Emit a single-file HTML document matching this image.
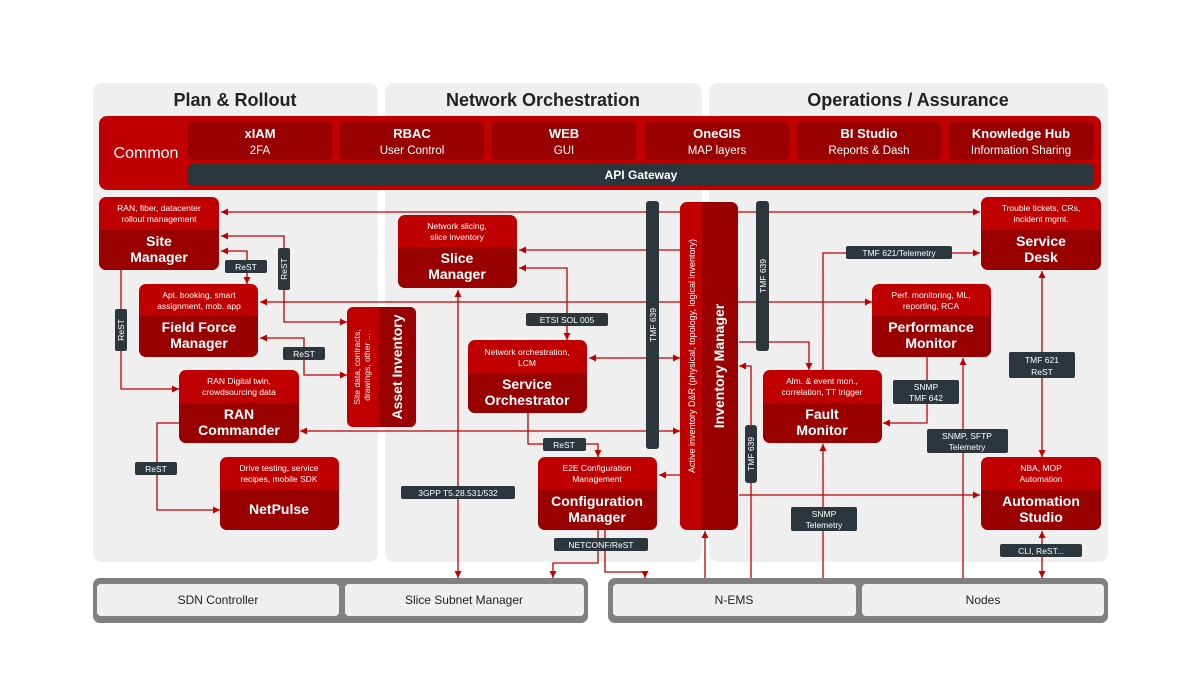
<!DOCTYPE html>
<html><head><meta charset="utf-8"><style>
html,body{margin:0;padding:0;background:#fff}
svg{display:block;font-family:"Liberation Sans",sans-serif}
.d{font-size:8.5px;fill:#fff;text-anchor:middle}
.t{font-size:14px;font-weight:bold;fill:#fff;text-anchor:middle}
.l{font-size:8.5px;fill:#fff;text-anchor:middle}
.w{stroke:#c00000;stroke-width:1.3;fill:none}
</style></head><body>
<svg width="1200" height="675" viewBox="0 0 1200 675">
<defs>
<marker id="a" viewBox="0 0 10 10" refX="10" refY="5" markerWidth="7" markerHeight="7" markerUnits="userSpaceOnUse" orient="auto-start-reverse"><path d="M0,0L10,5L0,10z" fill="#c00000"/></marker>
</defs>
<rect x="93" y="83" width="285" height="479" rx="9" fill="#efefef"/>
<rect x="385" y="83" width="317" height="479" rx="9" fill="#efefef"/>
<rect x="709" y="83" width="399" height="479" rx="9" fill="#efefef"/>
<g font-size="18" font-weight="bold" fill="#222" text-anchor="middle">
<text x="235" y="106">Plan &amp; Rollout</text>
<text x="543" y="106">Network Orchestration</text>
<text x="908" y="106">Operations / Assurance</text>
</g>
<rect x="99" y="116" width="1002" height="74" rx="8" fill="#c00000"/>
<text x="146" y="158" font-size="16" fill="#fff" text-anchor="middle">Common</text>
<g>
<rect x="188" y="122" width="144" height="38" rx="5" fill="#990000"/>
<rect x="340" y="122" width="144" height="38" rx="5" fill="#990000"/>
<rect x="492" y="122" width="144" height="38" rx="5" fill="#990000"/>
<rect x="645" y="122" width="144" height="38" rx="5" fill="#990000"/>
<rect x="797" y="122" width="144" height="38" rx="5" fill="#990000"/>
<rect x="949" y="122" width="145" height="38" rx="5" fill="#990000"/>
</g>
<g fill="#fff" text-anchor="middle">
<g font-size="13" font-weight="bold">
<text x="260" y="138">xIAM</text><text x="412" y="138">RBAC</text><text x="564" y="138">WEB</text><text x="717" y="138">OneGIS</text><text x="869" y="138">BI Studio</text><text x="1021" y="138">Knowledge Hub</text></g>
<g font-size="11.5">
<text x="260" y="154">2FA</text><text x="412" y="154">User Control</text><text x="564" y="154">GUI</text><text x="717" y="154">MAP layers</text><text x="869" y="154">Reports &amp; Dash</text><text x="1021" y="154">Information Sharing</text></g>
</g>
<rect x="188" y="164" width="906" height="22" rx="5" fill="#2b363d"/>
<text x="641" y="179" font-size="12" font-weight="bold" fill="#fff" text-anchor="middle">API Gateway</text>

<g class="w">
<path d="M221,212H980" marker-start="url(#a)" marker-end="url(#a)"/>
<path d="M680,250H519" marker-end="url(#a)"/>
<path d="M221,251H247V284" marker-start="url(#a)" marker-end="url(#a)"/>
<path d="M221,236H284V322H347" marker-start="url(#a)" marker-end="url(#a)"/>
<path d="M260,302H872" marker-start="url(#a)" marker-end="url(#a)"/>
<path d="M260,338H304V375H347" marker-start="url(#a)" marker-end="url(#a)"/>
<path d="M121,270V389H179" marker-end="url(#a)"/>
<path d="M179,423H157V510H220" marker-end="url(#a)"/>
<path d="M300,431H680" marker-start="url(#a)" marker-end="url(#a)"/>
<path d="M519,268H567V340" marker-start="url(#a)" marker-end="url(#a)"/>
<path d="M458,290V578" marker-start="url(#a)" marker-end="url(#a)"/>
<path d="M589,358H680" marker-start="url(#a)" marker-end="url(#a)"/>
<path d="M528,413V444H598V457" marker-end="url(#a)"/>
<path d="M680,475H659" marker-end="url(#a)"/>
<path d="M598,530V563H553V578" marker-end="url(#a)"/>
<path d="M605,530V572H645V578" marker-end="url(#a)"/>
<path d="M705,578V531" marker-end="url(#a)"/>
<path d="M751,578V366H739" marker-end="url(#a)"/>
<path d="M739,495H980" marker-end="url(#a)"/>
<path d="M739,342H809V370" marker-end="url(#a)"/>
<path d="M823,370V253H980" marker-end="url(#a)"/>
<path d="M927,357V423H883" marker-end="url(#a)"/>
<path d="M823,578V444" marker-end="url(#a)"/>
<path d="M963,578V358" marker-end="url(#a)"/>
<path d="M1042,271V457" marker-start="url(#a)" marker-end="url(#a)"/>
<path d="M1042,531V578" marker-start="url(#a)" marker-end="url(#a)"/>
</g>

<rect x="646" y="201" width="13" height="248" rx="3" fill="#2b363d"/>
<text transform="translate(656,325) rotate(-90)" class="l">TMF 639</text>
<rect x="756" y="201" width="13" height="150" rx="3" fill="#2b363d"/>
<text transform="translate(766,276) rotate(-90)" class="l">TMF 639</text>
<rect x="745" y="425" width="12" height="58" rx="3" fill="#2b363d"/>
<text transform="translate(754,454) rotate(-90)" class="l">TMF 639</text>

<g>
<rect x="99" y="197" width="120" height="73" rx="7" fill="#c00000"/><path d="M99,230H219V263a7,7 0 0 1 -7,7H106a7,7 0 0 1 -7,-7z" fill="#990000"/>
<text x="159" y="211" class="d">RAN, fiber, datacenter</text><text x="159" y="222" class="d">rollout management</text>
<text x="159" y="246" class="t">Site</text><text x="159" y="262" class="t">Manager</text>
<rect x="139" y="284" width="119" height="73" rx="7" fill="#c00000"/><path d="M139,316H258V350a7,7 0 0 1 -7,7H146a7,7 0 0 1 -7,-7z" fill="#990000"/>
<text x="199" y="298" class="d">Apt. booking, smart</text><text x="199" y="309" class="d">assignment, mob. app</text>
<text x="199" y="332" class="t">Field Force</text><text x="199" y="348" class="t">Manager</text>
<rect x="179" y="370" width="120" height="73" rx="7" fill="#c00000"/><path d="M179,403H299V436a7,7 0 0 1 -7,7H186a7,7 0 0 1 -7,-7z" fill="#990000"/>
<text x="239" y="384" class="d">RAN Digital twin,</text><text x="239" y="395" class="d">crowdsourcing data</text>
<text x="239" y="419" class="t">RAN</text><text x="239" y="435" class="t">Commander</text>
<rect x="220" y="457" width="119" height="73" rx="7" fill="#c00000"/><path d="M220,490H339V523a7,7 0 0 1 -7,7H227a7,7 0 0 1 -7,-7z" fill="#990000"/>
<text x="279" y="471" class="d">Drive testing, service</text><text x="279" y="482" class="d">recipes, mobile SDK</text>
<text x="279" y="514" class="t">NetPulse</text>
<rect x="347" y="307" width="69" height="120" rx="6" fill="#c00000"/><path d="M379,307H410a6,6 0 0 1 6,6V421a6,6 0 0 1 -6,6H379z" fill="#990000"/>
<text transform="translate(360,367) rotate(-90)" class="d">Site data, contracts,</text>
<text transform="translate(370,367) rotate(-90)" class="d">drawings, other ...</text>
<text transform="translate(402,367) rotate(-90)" class="t">Asset Inventory</text>
<rect x="398" y="215" width="119" height="73" rx="7" fill="#c00000"/><path d="M398,247H517V281a7,7 0 0 1 -7,7H405a7,7 0 0 1 -7,-7z" fill="#990000"/>
<text x="457" y="229" class="d">Network slicing,</text><text x="457" y="240" class="d">slice inventory</text>
<text x="457" y="263" class="t">Slice</text><text x="457" y="279" class="t">Manager</text>
<rect x="468" y="340" width="119" height="73" rx="7" fill="#c00000"/><path d="M468,373H587V406a7,7 0 0 1 -7,7H475a7,7 0 0 1 -7,-7z" fill="#990000"/>
<text x="527" y="355" class="d">Network orchestration,</text><text x="527" y="366" class="d">LCM</text>
<text x="527" y="389" class="t">Service</text><text x="527" y="405" class="t">Orchestrator</text>
<rect x="538" y="457" width="119" height="73" rx="7" fill="#c00000"/><path d="M538,490H657V523a7,7 0 0 1 -7,7H545a7,7 0 0 1 -7,-7z" fill="#990000"/>
<text x="597" y="471" class="d">E2E Configuration</text><text x="597" y="482" class="d">Management</text>
<text x="597" y="506" class="t">Configuration</text><text x="597" y="522" class="t">Manager</text>
<rect x="680" y="202" width="58" height="328" rx="7" fill="#c00000"/><path d="M702,202H731a7,7 0 0 1 7,7V523a7,7 0 0 1 -7,7H702z" fill="#990000"/>
<text transform="translate(695,356) rotate(-90)" class="d" style="font-size:9px">Active inventory D&amp;R (physical, topology, logical inventory)</text>
<text transform="translate(724,366) rotate(-90)" class="t">Inventory Manager</text>
<rect x="981" y="197" width="120" height="73" rx="7" fill="#c00000"/><path d="M981,230H1101V263a7,7 0 0 1 -7,7H988a7,7 0 0 1 -7,-7z" fill="#990000"/>
<text x="1041" y="211" class="d">Trouble tickets, CRs,</text><text x="1041" y="222" class="d">incident mgmt.</text>
<text x="1041" y="246" class="t">Service</text><text x="1041" y="262" class="t">Desk</text>
<rect x="872" y="284" width="119" height="73" rx="7" fill="#c00000"/><path d="M872,316H991V350a7,7 0 0 1 -7,7H879a7,7 0 0 1 -7,-7z" fill="#990000"/>
<text x="931" y="298" class="d">Perf. monitoring, ML,</text><text x="931" y="309" class="d">reporting, RCA</text>
<text x="931" y="332" class="t">Performance</text><text x="931" y="348" class="t">Monitor</text>
<rect x="763" y="370" width="119" height="73" rx="7" fill="#c00000"/><path d="M763,403H882V436a7,7 0 0 1 -7,7H770a7,7 0 0 1 -7,-7z" fill="#990000"/>
<text x="822" y="384" class="d">Alm. &amp; event mon.,</text><text x="822" y="395" class="d">correlation, TT trigger</text>
<text x="822" y="419" class="t">Fault</text><text x="822" y="435" class="t">Monitor</text>
<rect x="981" y="457" width="120" height="73" rx="7" fill="#c00000"/><path d="M981,490H1101V523a7,7 0 0 1 -7,7H988a7,7 0 0 1 -7,-7z" fill="#990000"/>
<text x="1041" y="471" class="d">NBA, MOP</text><text x="1041" y="482" class="d">Automation</text>
<text x="1041" y="506" class="t">Automation</text><text x="1041" y="522" class="t">Studio</text>
</g>

<g fill="#2b363d">
<rect x="225" y="260" width="42" height="13" rx="2"/>
<rect x="278" y="248" width="12" height="42" rx="2"/>
<rect x="115" y="309" width="12" height="42" rx="2"/>
<rect x="283" y="347" width="42" height="13" rx="2"/>
<rect x="135" y="462" width="42" height="13" rx="2"/>
<rect x="526" y="313" width="82" height="13" rx="2"/>
<rect x="543" y="438" width="43" height="13" rx="2"/>
<rect x="401" y="486" width="114" height="13" rx="2"/>
<rect x="554" y="538" width="94" height="13" rx="2"/>
<rect x="846" y="246" width="106" height="13" rx="2"/>
<rect x="1009" y="352" width="66" height="26" rx="2"/>
<rect x="893" y="380" width="66" height="24" rx="2"/>
<rect x="927" y="429" width="81" height="24" rx="2"/>
<rect x="791" y="507" width="66" height="24" rx="2"/>
<rect x="1000" y="544" width="82" height="13" rx="2"/>
</g>
<g>
<text x="246" y="270" class="l">ReST</text>
<text transform="translate(287,269) rotate(-90)" class="l">ReST</text>
<text transform="translate(124,330) rotate(-90)" class="l">ReST</text>
<text x="304" y="357" class="l">ReST</text>
<text x="156" y="472" class="l">ReST</text>
<text x="567" y="323" class="l">ETSI SOL 005</text>
<text x="564" y="448" class="l">ReST</text>
<text x="458" y="496" class="l">3GPP T5.28.531/532</text>
<text x="601" y="548" class="l">NETCONF/ReST</text>
<text x="899" y="256" class="l">TMF 621/Telemetry</text>
<text x="1042" y="363" class="l">TMF 621</text><text x="1042" y="375" class="l">ReST</text>
<text x="926" y="390" class="l">SNMP</text><text x="926" y="401" class="l">TMF 642</text>
<text x="967" y="439" class="l">SNMP, SFTP</text><text x="967" y="450" class="l">Telemetry</text>
<text x="824" y="517" class="l">SNMP</text><text x="824" y="528" class="l">Telemetry</text>
<text x="1041" y="554" class="l">CLI, ReST...</text>
</g>

<rect x="93" y="578" width="495" height="45" rx="7" fill="#808080"/>
<rect x="97" y="584" width="242" height="32" rx="4" fill="#efefef"/>
<rect x="345" y="584" width="239" height="32" rx="4" fill="#efefef"/>
<rect x="608" y="578" width="500" height="45" rx="7" fill="#808080"/>
<rect x="613" y="584" width="243" height="32" rx="4" fill="#efefef"/>
<rect x="862" y="584" width="242" height="32" rx="4" fill="#efefef"/>
<g font-size="12" fill="#222" text-anchor="middle">
<text x="218" y="604">SDN Controller</text>
<text x="464" y="604">Slice Subnet Manager</text>
<text x="734" y="604">N-EMS</text>
<text x="983" y="604">Nodes</text>
</g>
</svg>
</body></html>
